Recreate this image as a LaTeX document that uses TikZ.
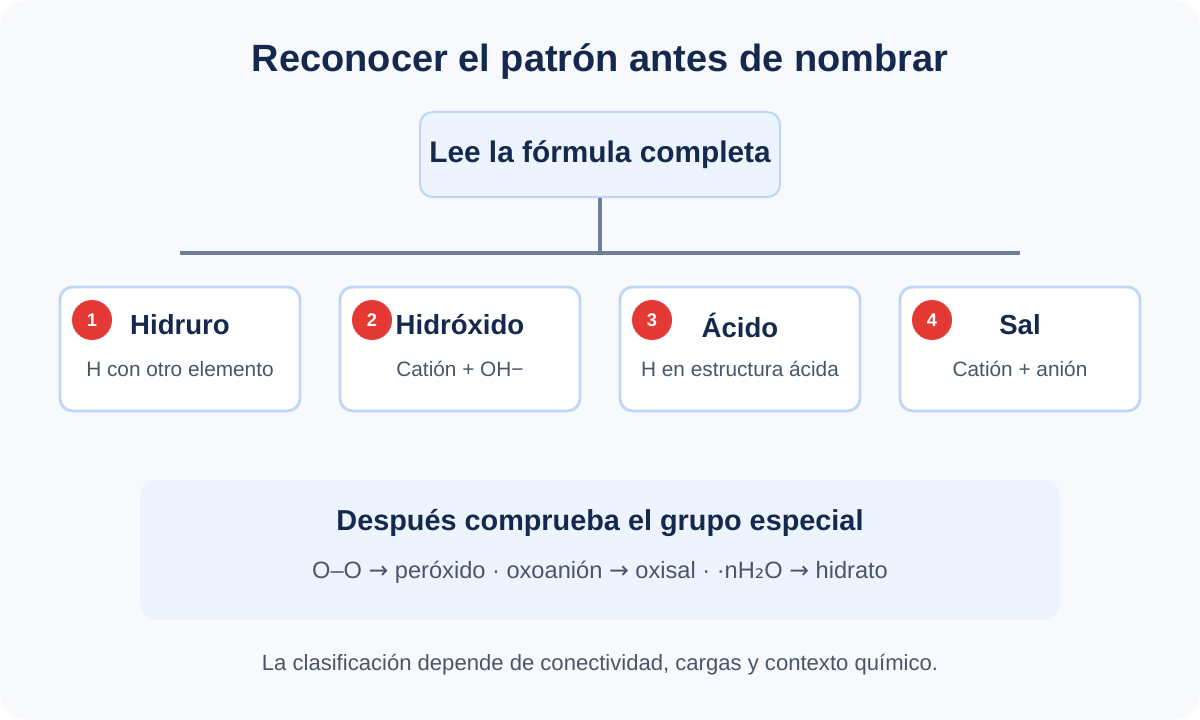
\documentclass[tikz,border=0pt]{standalone}
\usepackage{fontspec}
\setmainfont{Liberation Sans}
\newfontfamily\djvfont{DejaVu Sans}
\newcommand{\arr}{{\djvfont →}}
\definecolor{navy}{HTML}{14294D}
\definecolor{bg}{HTML}{F7F9FC}
\definecolor{boxfill}{HTML}{EEF4FE}
\definecolor{boxline}{HTML}{BFD6F5}
\definecolor{conn}{HTML}{6B7F99}
\definecolor{redc}{HTML}{E53935}
\definecolor{gtext}{HTML}{4A5568}
\begin{document}
\begin{tikzpicture}[x=0.025cm,y=-0.025cm,
  card/.style={draw=boxline,line width=2pt,fill=white,rounded corners=9pt,minimum width=240*0.025cm,minimum height=124*0.025cm,inner sep=0pt},
  num/.style={circle,fill=redc,text=white,font=\fontsize{13}{15}\selectfont\bfseries,minimum size=40*0.025cm,inner sep=0pt},
  ctitle/.style={text=navy,font=\fontsize{19.6}{22}\selectfont\bfseries},
  csub/.style={text=gtext,font=\fontsize{14.8}{17}\selectfont}]
\fill[white] (0,0) rectangle (1200,720);
\fill[bg,rounded corners=20pt] (0,0) rectangle (1200,720);
\useasboundingbox (0,0) rectangle (1200,720);
\node[text=navy,font=\fontsize{27}{30}\selectfont\bfseries] (title) at (600,62) {Reconocer el patrón antes de nombrar};
\node[draw=boxline,line width=1.5pt,fill=boxfill,rounded corners=9pt,minimum width=360*0.025cm,minimum height=85*0.025cm,text=navy,font=\fontsize{21.2}{24}\selectfont\bfseries] (top) at (600,154.5) {Lee la fórmula completa};
\coordinate (hub) at (600,253);
\coordinate (hl) at (180,253);
\coordinate (hr) at (1020,253);
\draw[conn,line width=2.8pt] (top.south) -- (hub);
\draw[conn,line width=2.8pt] (hl) -- (hr);
\foreach \i/\x/\t/\s in {1/180/Hidruro/H con otro elemento,2/460/Hidróxido/Catión + OH−,3/740/Ácido/H en estructura ácida,4/1020/Sal/Catión + anión}{
  \node[card] (c\i) at (\x,349) {};
  \node[num] (n\i) at (\x-88,320) {\i};
  \node[ctitle] (t\i) at (\x,325) {\t};
  \node[csub] (s\i) at (\x,369) {\s};
}
\node[fill=boxfill,rounded corners=12pt,minimum width=920*0.025cm,minimum height=140*0.025cm] (bot) at (600,550) {};
\node[text=navy,font=\fontsize{20.5}{23}\selectfont\bfseries] (bt) at (600,523) {Después comprueba el grupo especial};
\node[text=gtext,font=\fontsize{16.8}{19}\selectfont] (bf) at (600,572) {O–O \arr{} peróxido · oxoanión \arr{} oxisal · ·nH{\djvfont ₂}O \arr{} hidrato};
\node[text=gtext,font=\fontsize{15.7}{18}\selectfont] (foot) at (600,665) {La clasificación depende de conectividad, cargas y contexto químico.};
\end{tikzpicture}
\end{document}
